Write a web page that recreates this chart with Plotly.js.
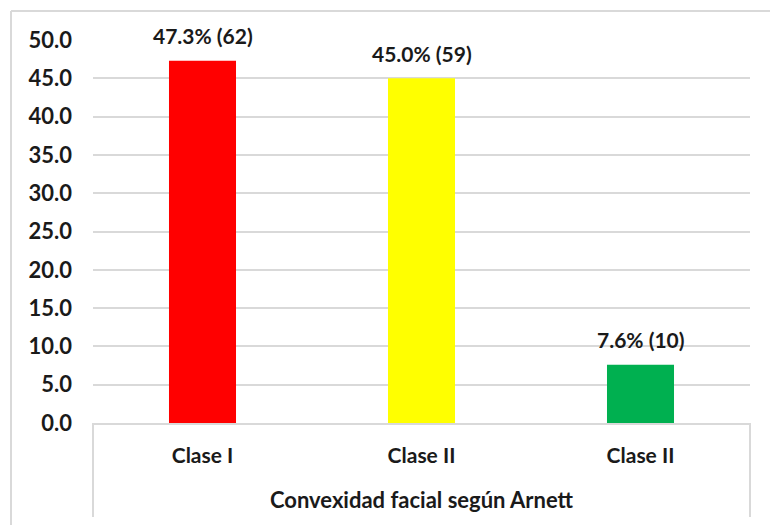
<!DOCTYPE html>
<html>
<head>
<meta charset="utf-8">
<script src="https://cdn.plot.ly/plotly-3.0.1.min.js"></script>
<style>html,body{margin:0;padding:0;background:#fff;}#chart{width:770px;height:525px;}</style>
</head>
<body>
<div id="chart"></div>
<script>
const categories = ["Clase I", "Clase II", "Clase II"];
const percents = [47.3, 45.0, 7.6];
const counts = [62, 59, 10];
const colors = ["#ff0000", "#ffff00", "#00b050"];
const yTicks = [0, 5, 10, 15, 20, 25, 30, 35, 40, 45, 50];
const xTitle = "Convexidad facial según Arnett";

const W = 770, H = 525;
const M = {l: 93, r: 20, t: 40, b: 102};
const pw = W - M.l - M.r, ph = H - M.t - M.b;
const px = x => (x - M.l) / pw;
const py = y => (H - M.b - y) / ph;

const xs = categories.map((c, i) => i);
const labels = percents.map((p, i) => p.toFixed(1) + "% (" + counts[i] + ")");
const FONT = "Lato, 'Liberation Sans', sans-serif";
const grey = "#d9d9d9";

const trace = {
  type: "bar",
  x: xs,
  y: percents,
  width: 0.306,
  marker: {color: colors, line: {width: 0}},
  hoverinfo: "none"
};

const annotations = xs.map((x, i) => ({
  x: x, y: percents[i], xref: "x", yref: "y",
  text: "<b>" + labels[i] + "</b>",
  showarrow: false, yanchor: "middle", yshift: 25,
  font: {family: FONT, size: 21, color: "#1a1a1a"}
}));

const shapes = [
  {type: "line", xref: "paper", yref: "paper", x0: px(11), x1: px(780), y0: py(11), y1: py(11), line: {color: grey, width: 2}},
  {type: "line", xref: "paper", yref: "paper", x0: px(11), x1: px(11), y0: py(11), y1: py(530), line: {color: grey, width: 2}},
  {type: "line", xref: "paper", yref: "paper", x0: 0, x1: 0, y0: 0, y1: py(517), line: {color: grey, width: 2}},
  {type: "line", xref: "paper", yref: "paper", x0: 1, x1: 1, y0: 0, y1: py(517), line: {color: grey, width: 2}}
];

const layout = {
  width: W, height: H,
  margin: M,
  paper_bgcolor: "#ffffff",
  plot_bgcolor: "#ffffff",
  showlegend: false,
  font: {family: FONT, color: "#1a1a1a"},
  xaxis: {
    range: [-0.5, 2.5],
    tickvals: xs,
    ticktext: categories.map(c => "<b>" + c + "</b>"),
    tickfont: {family: FONT, size: 21, color: "#1a1a1a"},
    ticklabelstandoff: 13,
    showgrid: false,
    zeroline: false,
    showline: true, linecolor: grey, linewidth: 2,
    ticks: "",
    title: {text: "<b>" + xTitle + "</b>", font: {family: FONT, size: 22, color: "#1a1a1a"}, standoff: 26},
    fixedrange: true
  },
  yaxis: {
    range: [0, 50],
    tickvals: yTicks,
    ticktext: yTicks.map(v => "<b>" + v.toFixed(1) + "</b>"),
    tickfont: {family: FONT, size: 22, color: "#1a1a1a"},
    ticklabelstandoff: 20,
    showgrid: true, gridcolor: grey, gridwidth: 2,
    zeroline: false,
    showline: false,
    ticks: "",
    fixedrange: true
  },
  shapes: shapes,
  annotations: annotations
};

Plotly.newPlot("chart", [trace], layout, {displayModeBar: false, staticPlot: true});
</script>
</body>
</html>
